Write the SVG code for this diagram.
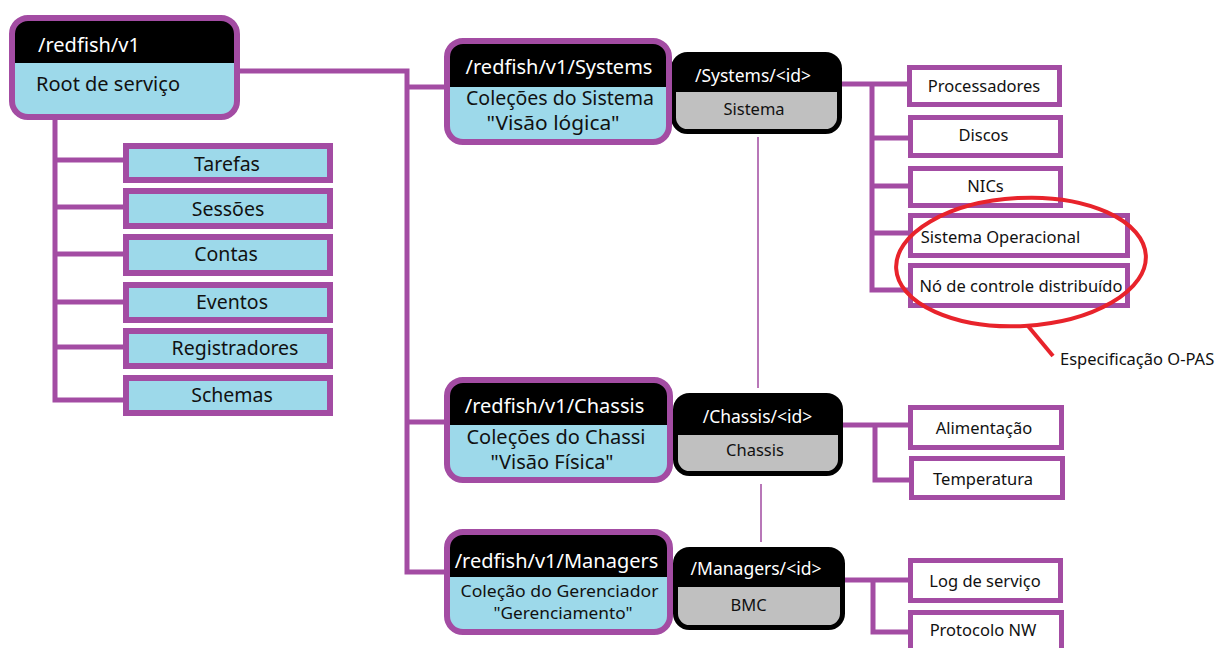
<svg xmlns="http://www.w3.org/2000/svg" width="1218" height="648" viewBox="0 0 1218 648">
  <style>
    text { font-family: "Noto Sans", "Open Sans", sans-serif; }
    .conn { fill: none; stroke: #a34ca3; stroke-width: 5; stroke-linejoin: miter; stroke-linecap: butt; }
    .thin { fill: none; stroke: #b877b8; stroke-width: 2; }
    .pnode-body { fill: #9dd9ea; }
    .pnode-head { fill: #000; }
    .pnode-edge { fill: none; stroke: #a34ca3; stroke-width: 6; }
    .knode-body { fill: #c0c0c0; }
    .knode-head { fill: #000; }
    .knode-edge { fill: none; stroke: #000; stroke-width: 5; }
    .leaf { fill: #9dd9ea; stroke: #a34ca3; stroke-width: 6; }
    .item { fill: #fff; stroke: #a34ca3; stroke-width: 5; }
    .hd { fill: #fff; font-size: 20px; text-anchor: middle; }
    .hdl { fill: #fff; font-size: 20px; }
    .bd { fill: #111; font-size: 20px; text-anchor: middle; }
    .kh { fill: #fff; font-size: 17.5px; text-anchor: middle; }
    .kb { fill: #111; font-size: 16.5px; text-anchor: middle; }
    .lf { fill: #111; font-size: 19.5px; text-anchor: middle; }
    .it { fill: #111; font-size: 16.5px; text-anchor: middle; }
    .note { fill: #111; font-size: 16.5px; }
    .mark { fill: none; stroke: #e8232b; stroke-width: 4; }
  </style>

  <!-- connectors -->
  <g id="connectors">
    <!-- root to service leaves -->
    <path class="conn" d="M55 118 V400 H126"/>
    <path class="conn" d="M55 160 H126"/>
    <path class="conn" d="M55 207 H126"/>
    <path class="conn" d="M55 254 H126"/>
    <path class="conn" d="M55 302 H126"/>
    <path class="conn" d="M55 347 H126"/>
    <!-- root to collections -->
    <path class="conn" d="M238 71 H407 V572 H447"/>
    <path class="conn" d="M407 87 H447"/>
    <path class="conn" d="M407 422 H447"/>
    <!-- system members -->
    <path class="conn" d="M840 84 H910"/>
    <path class="conn" d="M872 84 V290 H910"/>
    <path class="conn" d="M872 138 H910"/>
    <path class="conn" d="M872 186 H910"/>
    <path class="conn" d="M872 233 H910"/>
    <!-- chassis members -->
    <path class="conn" d="M841 425 H910"/>
    <path class="conn" d="M875 425 V480 H911"/>
    <!-- manager members -->
    <path class="conn" d="M843 580 H910"/>
    <path class="conn" d="M873 580 V632 H910"/>
    <!-- links between instances -->
    <path class="thin" d="M758 137 V388"/>
    <path class="thin" d="M761 484 V542"/>
  </g>

  <!-- instance nodes -->
  <g id="systems-id">
    <rect class="knode-body" x="673.5" y="54.5" width="166" height="77" rx="14"/>
    <path class="knode-head" d="M673.5 92 V68.5 A14 14 0 0 1 687.5 54.5 H825.5 A14 14 0 0 1 839.5 68.5 V92 Z"/>
    <rect class="knode-edge" x="673.5" y="54.5" width="166" height="77" rx="14"/>
    <text class="kh" x="753" y="82">/Systems/&lt;id&gt;</text>
    <text class="kb" x="754" y="115">Sistema</text>
  </g>
  <g id="chassis-id">
    <rect class="knode-body" x="675.5" y="395.5" width="165" height="78" rx="14"/>
    <path class="knode-head" d="M675.5 435 V409.5 A14 14 0 0 1 689.5 395.5 H826.5 A14 14 0 0 1 840.5 409.5 V435 Z"/>
    <rect class="knode-edge" x="675.5" y="395.5" width="165" height="78" rx="14"/>
    <text class="kh" x="757.5" y="423">/Chassis/&lt;id&gt;</text>
    <text class="kb" x="755" y="456">Chassis</text>
  </g>
  <g id="managers-id">
    <rect class="knode-body" x="675.5" y="549.5" width="167" height="78" rx="14"/>
    <path class="knode-head" d="M675.5 587 V563.5 A14 14 0 0 1 689.5 549.5 H828.5 A14 14 0 0 1 842.5 563.5 V587 Z"/>
    <rect class="knode-edge" x="675.5" y="549.5" width="167" height="78" rx="14"/>
    <text class="kh" x="756" y="575">/Managers/&lt;id&gt;</text>
    <text class="kb" x="748.5" y="611">BMC</text>
  </g>

  <!-- root and collection nodes -->
  <g id="root">
    <rect class="pnode-body" x="12" y="18" width="225" height="99" rx="16"/>
    <path class="pnode-head" d="M12 63 V34 A16 16 0 0 1 28 18 H221 A16 16 0 0 1 237 34 V63 Z"/>
    <rect class="pnode-edge" x="12" y="18" width="225" height="99" rx="16"/>
    <text class="hdl" x="38" y="52">/redfish/v1</text>
    <text class="bd" x="36" y="91" style="text-anchor:start">Root de serviço</text>
  </g>
  <g id="systems">
    <rect class="pnode-body" x="447" y="41" width="222" height="101" rx="16"/>
    <path class="pnode-head" d="M447 87 V57 A16 16 0 0 1 463 41 H653 A16 16 0 0 1 669 57 V87 Z"/>
    <rect class="pnode-edge" x="447" y="41" width="222" height="101" rx="16"/>
    <text class="hd" x="559" y="74">/redfish/v1/Systems</text>
    <text class="bd" x="560" y="105" style="font-size:19px" textLength="188" lengthAdjust="spacingAndGlyphs">Coleções do Sistema</text>
    <text class="bd" x="553" y="130" style="font-size:19px" textLength="133" lengthAdjust="spacingAndGlyphs">"Visão lógica"</text>
  </g>
  <g id="chassis">
    <rect class="pnode-body" x="447" y="380" width="223" height="100" rx="16"/>
    <path class="pnode-head" d="M447 425 V396 A16 16 0 0 1 463 380 H654 A16 16 0 0 1 670 396 V425 Z"/>
    <rect class="pnode-edge" x="447" y="380" width="223" height="100" rx="16"/>
    <text class="hd" x="554.5" y="413">/redfish/v1/Chassis</text>
    <text class="bd" x="556" y="444">Coleções do Chassi</text>
    <text class="bd" x="552" y="469">"Visão Física"</text>
  </g>
  <g id="managers">
    <rect class="pnode-body" x="447" y="532" width="223" height="100" rx="16"/>
    <path class="pnode-head" d="M447 577 V548 A16 16 0 0 1 463 532 H654 A16 16 0 0 1 670 548 V577 Z"/>
    <rect class="pnode-edge" x="447" y="532" width="223" height="100" rx="16"/>
    <text class="hd" x="556.5" y="568">/redfish/v1/Managers</text>
    <text class="bd" x="559.5" y="597" style="font-size:16px" textLength="198" lengthAdjust="spacingAndGlyphs">Coleção do Gerenciador</text>
    <text class="bd" x="563" y="619" style="font-size:16px" textLength="139" lengthAdjust="spacingAndGlyphs">"Gerenciamento"</text>
  </g>

  <!-- service leaves -->
  <g id="tarefas"><rect class="leaf" x="126" y="146" width="204" height="34"/><text class="lf" x="227" y="171">Tarefas</text></g>
  <g id="sessoes"><rect class="leaf" x="126" y="191" width="204" height="35"/><text class="lf" x="228" y="216">Sessões</text></g>
  <g id="contas"><rect class="leaf" x="126" y="237" width="204" height="36"/><text class="lf" x="226" y="261">Contas</text></g>
  <g id="eventos"><rect class="leaf" x="126" y="285" width="204" height="35"/><text class="lf" x="232" y="309">Eventos</text></g>
  <g id="registradores"><rect class="leaf" x="126" y="331" width="204" height="35"/><text class="lf" x="235" y="355">Registradores</text></g>
  <g id="schemas"><rect class="leaf" x="126" y="378" width="204" height="35"/><text class="lf" x="232" y="402">Schemas</text></g>

  <!-- system members -->
  <g id="processadores"><rect class="item" x="909.5" y="67.5" width="150" height="37"/><text class="it" x="984" y="92">Processadores</text></g>
  <g id="discos"><rect class="item" x="910.5" y="117.5" width="150" height="38"/><text class="it" x="983.5" y="141">Discos</text></g>
  <g id="nics"><rect class="item" x="910.5" y="168.5" width="150" height="37"/><text class="it" x="985.5" y="192">NICs</text></g>
  <g id="sistema-operacional"><rect class="item" x="910.5" y="215.5" width="217" height="40"/><text class="it" x="1000.5" y="243">Sistema Operacional</text></g>
  <g id="no-controle"><rect class="item" x="910.5" y="265.5" width="217" height="40"/><text class="it" x="1021" y="292">Nó de controle distribuído</text></g>

  <!-- chassis members -->
  <g id="alimentacao"><rect class="item" x="910.5" y="407.5" width="151" height="40"/><text class="it" x="984" y="434">Alimentação</text></g>
  <g id="temperatura"><rect class="item" x="911.5" y="458.5" width="151" height="39"/><text class="it" x="983" y="485">Temperatura</text></g>

  <!-- manager members -->
  <g id="log-servico"><rect class="item" x="910.5" y="560.5" width="150" height="40"/><text class="it" x="985" y="587">Log de serviço</text></g>
  <g id="protocolo-nw"><rect class="item" x="910.5" y="612.5" width="151" height="50"/><text class="it" x="983" y="636">Protocolo NW</text></g>

  <!-- O-PAS highlight -->
  <g id="opas-note">
    <ellipse class="mark" cx="1021" cy="262" rx="125" ry="64" transform="rotate(-3 1021 262)"/>
    <path class="mark" d="M1028 326 L1053 356"/>
    <text class="note" x="1060" y="365">Especificação O-PAS</text>
  </g>
</svg>
